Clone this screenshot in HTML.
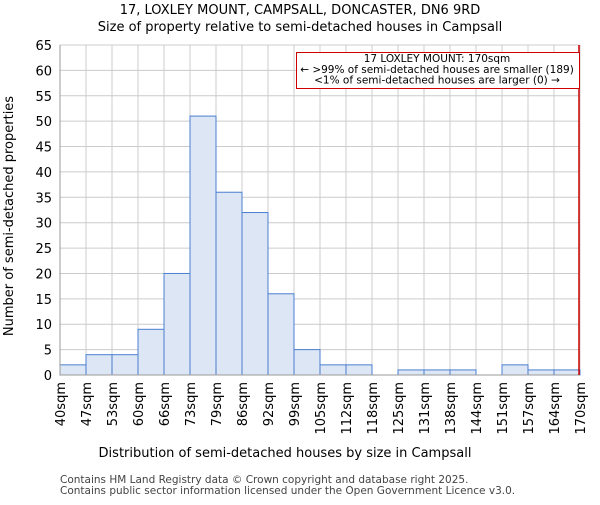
<!DOCTYPE html>
<html><head><meta charset="utf-8"><style>body{margin:0;background:#fff}svg{font-family:"DejaVu Sans","Liberation Sans",sans-serif}</style></head>
<body>
<svg id="c" width="600" height="500"></svg>
<script>
const categories=["40sqm","47sqm","53sqm","60sqm","66sqm","73sqm","79sqm","86sqm","92sqm","99sqm","105sqm","112sqm","118sqm","125sqm","131sqm","138sqm","144sqm","151sqm","157sqm","164sqm","170sqm"];
const counts=[2,4,4,9,20,51,36,32,16,5,2,2,0,1,1,1,0,2,1,1];
const yTicks=[0,5,10,15,20,25,30,35,40,45,50,55,60,65];
const x0=60,x1=580,y0=375,y1=45,yMax=65;
const bw=(x1-x0)/counts.length;
const X=i=>x0+i*bw, Y=v=>y0-(v/yMax)*(y0-y1);
const svg=document.getElementById('c');const NS='http://www.w3.org/2000/svg';
function mk(t,a,txt){const e=document.createElementNS(NS,t);for(const k in a)e.setAttribute(k,a[k]);if(txt!=null)e.textContent=txt;svg.appendChild(e);return e;}
yTicks.forEach(v=>{const g=mk('line',{x1:x0,x2:x1,y1:Y(v),y2:Y(v),stroke:'#ccc'});


const t=mk('text',{x:x0-8,y:Y(v)+5,'text-anchor':'end','font-size':13},v);

});
categories.forEach((c,i)=>{const g=mk('line',{x1:X(i),x2:X(i),y1:y1,y2:y0,stroke:'#ccc'});


const t=mk('text',{transform:`translate(${X(i)+5},382) rotate(-90)`,'text-anchor':'end','font-size':13},c);

});
counts.forEach((v,i)=>{if(v<=0)return;const r=mk('rect',{x:X(i),y:Y(v),width:bw,height:y0-Y(v),fill:'#dce6f4',stroke:'#4a7fd0','stroke-width':1});

});
const ax=mk('line',{x1:x0,x2:x1,y1:y0,y2:y0,stroke:'#999'});


const ay=mk('line',{x1:x0,x2:x0,y1:y1,y2:y0,stroke:'#999'});


const rl=mk('line',{x1:579,x2:579,y1:y1,y2:y0,stroke:'#c00','stroke-width':1.5});


</script>
<svg style="position:absolute;left:0;top:0" width="600" height="500">
<rect x="296.5" y="52.5" width="283" height="36" fill="#fff" stroke="#c00"/>
<text x="437" y="62" font-size="10.5" text-anchor="middle">17 LOXLEY MOUNT: 170sqm</text>
<text x="437" y="73" font-size="10.5" text-anchor="middle">← &gt;99% of semi-detached houses are smaller (189)</text>
<text x="437" y="83.5" font-size="10.5" text-anchor="middle">&lt;1% of semi-detached houses are larger (0) →</text>
<text x="300" y="14" font-size="13" text-anchor="middle">17, LOXLEY MOUNT, CAMPSALL, DONCASTER, DN6 9RD</text>
<text x="300" y="31" font-size="13" text-anchor="middle">Size of property relative to semi-detached houses in Campsall</text>
<text x="285" y="457" font-size="13" text-anchor="middle">Distribution of semi-detached houses by size in Campsall</text>
<text transform="translate(13,216) rotate(-90)" font-size="13" text-anchor="middle">Number of semi-detached properties</text>
<text x="60" y="483" font-size="10.5" fill="#444">Contains HM Land Registry data © Crown copyright and database right 2025.</text>
<text x="60" y="494" font-size="10.5" fill="#444">Contains public sector information licensed under the Open Government Licence v3.0.</text>
</svg>
</body></html>
